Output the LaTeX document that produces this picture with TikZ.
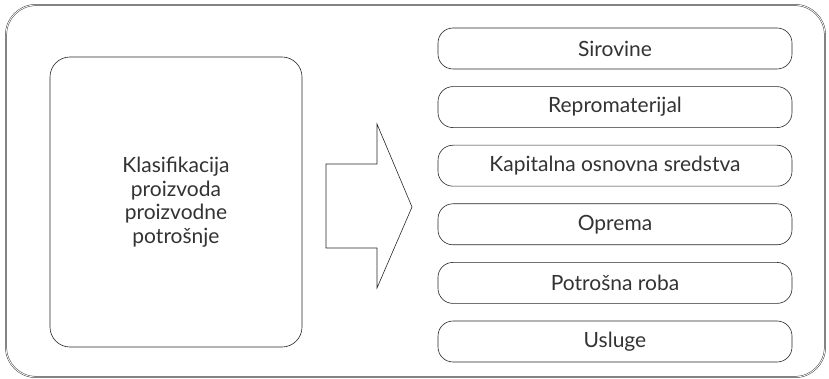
\documentclass[tikz,border=0pt]{standalone}
\usepackage{fontspec}
\setmainfont{Lato}
\usetikzlibrary{positioning}

\begin{document}
\begin{tikzpicture}[
    x=1pt, y=-1pt,
    frame/.style={draw=black!75, line width=0.5pt, double=white, double distance=0.8pt, rounded corners=30pt},
    bigbox/.style={draw=black!85, line width=0.6pt, rounded corners=20pt, minimum width=252pt, minimum height=290pt, align=center, font=\fontsize{21}{23.5}\selectfont, text=black!80},
    item/.style={draw=black!85, line width=0.6pt, rounded corners=15pt, minimum width=354pt, minimum height=41pt, font=\fontsize{21}{23}\selectfont, text=black!80},
    bigarrow/.style={draw=black!85, line width=0.6pt, line join=miter}
]
    \useasboundingbox (0,0) rectangle (829,379);
    \draw[frame] (6,5) rectangle (825,377);
    \node[bigbox] (klas) at (176,202) {Klasifikacija\\proizvoda\\proizvodne\\potrošnje};
    % arrow between the two parts
    \draw[bigarrow] (326,164) -- (377,164) -- (377,124) -- (412,207)
        -- (377,288) -- (377,248) -- (326,248) -- cycle;
    \node[item] (s1) at (615,48.5) {Sirovine};
    \node[item, below=17pt of s1] (s2) {Repromaterijal};
    \node[item, below=17pt of s2] (s3) {Kapitalna osnovna sredstva};
    \node[item, below=17pt of s3] (s4) {Oprema};
    \node[item, below=17pt of s4] (s5) {Potrošna roba};
    \node[item, below=17pt of s5] (s6) {Usluge};
\end{tikzpicture}
\end{document}
